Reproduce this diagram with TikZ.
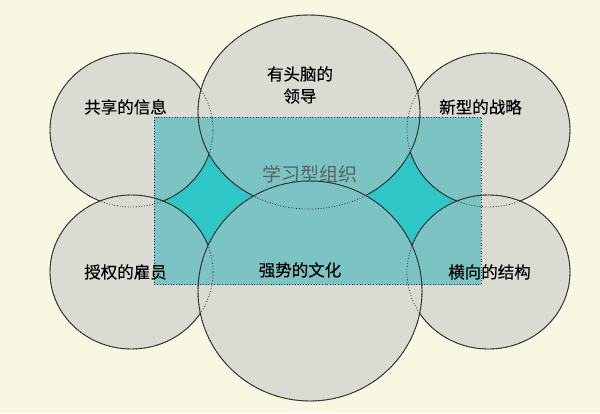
\documentclass[tikz,border=0pt]{standalone}
\usepackage{fontspec}
\newfontfamily\cjk{Noto Sans CJK SC}[UprightFeatures={FakeBold=0.3}]
\newfontfamily\cjktitle{Noto Sans CJK SC}
\definecolor{bg}{HTML}{F8F8E2}
\definecolor{ballgrey}{HTML}{DCDBD3}
\definecolor{tealmute}{HTML}{7CC4C4}
\definecolor{cyanbright}{HTML}{2EC6C6}
\definecolor{linegrey}{HTML}{333333}
\definecolor{titlegrey}{HTML}{556464}
\def\CirTL{(131.5,130) ellipse [x radius=81.5pt, y radius=77pt]}
\def\CirTR{(488.5,130) ellipse [x radius=81.5pt, y radius=77pt]}
\def\CirBL{(131.5,272) ellipse [x radius=81.5pt, y radius=77pt]}
\def\CirBR{(488.5,272) ellipse [x radius=81.5pt, y radius=77pt]}
\def\CirTM{(309,112) ellipse [x radius=111pt, y radius=97pt]}
\def\CirBM{(310,291) ellipse [x radius=112pt, y radius=110pt]}
\begin{document}
\begin{tikzpicture}[x=1pt,y=-1pt,
  ball/.style={fill=ballgrey, draw=linegrey, line width=0.9pt},
  tealball/.style={fill=tealmute, draw=linegrey, line width=0.9pt},
  hidden/.style={draw=linegrey, line width=0.8pt, dash pattern=on 0.9pt off 1.8pt},
  label/.style={font=\cjk\fontsize{16.5}{20}\selectfont, text=black, inner sep=0pt, align=center}]
\fill[bg] (0,0) rectangle (600,413);
\useasboundingbox (0,0) rectangle (600,413);
% spheres, back to front
\path[ball] \CirTL;
\path[ball] \CirTR;
\path[ball] \CirTM;
\path[ball] \CirBL;
\path[ball] \CirBR;
\path[ball] \CirBM;
% the translucent plane
\begin{scope}
  \clip (154,117) rectangle (481,284);
  \fill[cyanbright] (154,117) rectangle (481,284);
  \path[tealball] \CirTL;
  \path[tealball] \CirTR;
  \path[tealball] \CirTM;
  \path[tealball] \CirBL;
  \path[tealball] \CirBR;
  \path[tealball] \CirBM;
\end{scope}
% hidden outlines
\path[hidden] \CirTL;
\path[hidden] \CirTR;
\path[hidden] \CirTM;
\path[hidden] \CirBL;
\path[hidden] \CirBR;
\path[hidden] \CirBM;
\draw[hidden] (154,117) rectangle (481,284);
% labels
\node[label] (share) at (125.5,107) {共享的信息};
\node[label] (lead) at (300,85) {有头脑的\\[2pt]领导};
\node[label] (strat) at (480.5,107) {新型的战略};
\node[label] (empower) at (125.5,272) {授权的雇员};
\node[label] (culture) at (300,270) {强势的文化};
\node[label] (struct) at (489.5,272) {横向的结构};
\node[label, font=\cjktitle\fontsize{19}{22}\selectfont, text=titlegrey] (lo) at (310,174) {学习型组织};
\end{tikzpicture}
\end{document}
